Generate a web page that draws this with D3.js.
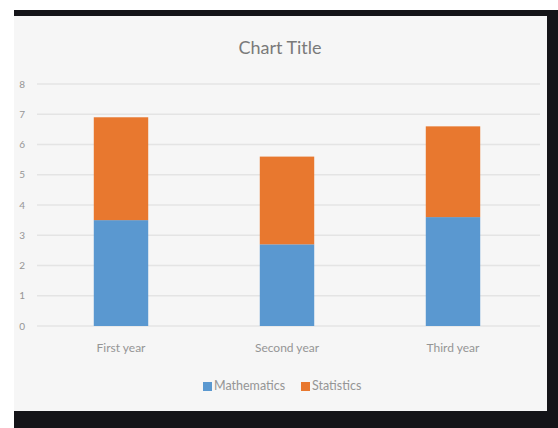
<!DOCTYPE html>
<html>
<head>
<meta charset="utf-8">
<script src="https://cdn.jsdelivr.net/npm/d3@7"></script>
<style>
  body { margin: 0; background: #fff; }
  svg { display: block; font-family: Lato, "Open Sans", sans-serif; }
</style>
</head>
<body>
<div id="chart"></div>
<script>
// values
var categories = ["First year", "Second year", "Third year"];
var mathematics = [3.5, 2.7, 3.6];
var statistics = [3.4, 2.9, 3.0];
var seriesNames = ["Mathematics", "Statistics"];
var yTicks = [0, 1, 2, 3, 4, 5, 6, 7, 8];

var W = 558, H = 428;
var colors = ["#5A98D0", "#E8782F"];

var svg = d3.select("#chart").append("svg")
  .attr("width", W)
  .attr("height", H);

// dark frame round the chart panel
svg.append("rect").attr("x", 14).attr("y", 10).attr("width", W - 14).attr("height", H - 10).attr("fill", "#141418");
svg.append("rect").attr("x", 14).attr("y", 16).attr("width", 533).attr("height", 395).attr("fill", "#f6f6f6");

var x = d3.scaleBand()
  .domain(categories)
  .range([38, 536])
  .paddingInner(0.672)
  .paddingOuter(0.336);

var y = d3.scaleLinear()
  .domain([0, 8])
  .range([326, 84]);

// gridlines
svg.append("g")
  .selectAll("line")
  .data(yTicks)
  .enter()
  .append("line")
    .attr("x1", 37)
    .attr("x2", 540)
    .attr("y1", function(d) { return y(d); })
    .attr("y2", function(d) { return y(d); })
    .attr("stroke", "#e4e4e4")
    .attr("stroke-width", 1.5);

// y axis labels
var yAxis = svg.append("g")
  .attr("transform", "translate(25,0)")
  .call(d3.axisLeft(y).tickValues(yTicks).tickSize(0).tickPadding(0));
yAxis.select(".domain").remove();
yAxis.selectAll("text")
  .attr("fill", "#959595")
  .attr("font-size", 10)
  .attr("font-family", "Lato, sans-serif");

// stacked data
var table = categories.map(function(c, i) {
  return { cat: c, Mathematics: mathematics[i], Statistics: statistics[i] };
});
var stacked = d3.stack().keys(seriesNames)(table);

svg.append("g")
  .selectAll("g")
  .data(stacked)
  .enter()
  .append("g")
    .attr("fill", function(d, i) { return colors[i]; })
  .selectAll("rect")
  .data(function(d) { return d; })
  .enter()
  .append("rect")
    .attr("x", function(d) { return x(d.data.cat); })
    .attr("y", function(d) { return y(d[1]); })
    .attr("width", x.bandwidth())
    .attr("height", function(d) { return y(d[0]) - y(d[1]); });

// x axis labels
var xAxis = svg.append("g")
  .attr("transform", "translate(0,343)")
  .call(d3.axisBottom(x).tickSize(0).tickPadding(0));
xAxis.select(".domain").remove();
xAxis.selectAll("text")
  .attr("fill", "#959595")
  .attr("font-size", 12)
  .attr("font-family", "Lato, sans-serif");

// title
svg.append("text")
  .attr("x", 280)
  .attr("y", 54)
  .attr("text-anchor", "middle")
  .attr("fill", "#7a7a7a")
  .attr("font-size", 18)
  .text("Chart Title");

// legend
var legendX = [203, 301];
var legend = svg.append("g")
  .selectAll("g")
  .data(seriesNames)
  .enter()
  .append("g")
    .attr("transform", function(d, i) { return "translate(" + legendX[i] + ",381)"; });
legend.append("rect")
  .attr("width", 9)
  .attr("height", 9)
  .attr("y", 1)
  .attr("fill", function(d, i) { return colors[i]; });
legend.append("text")
  .attr("x", 11)
  .attr("y", 9)
  .attr("fill", "#959595")
  .attr("font-size", 12.5)
  .text(function(d) { return d; });
</script>
</body>
</html>
